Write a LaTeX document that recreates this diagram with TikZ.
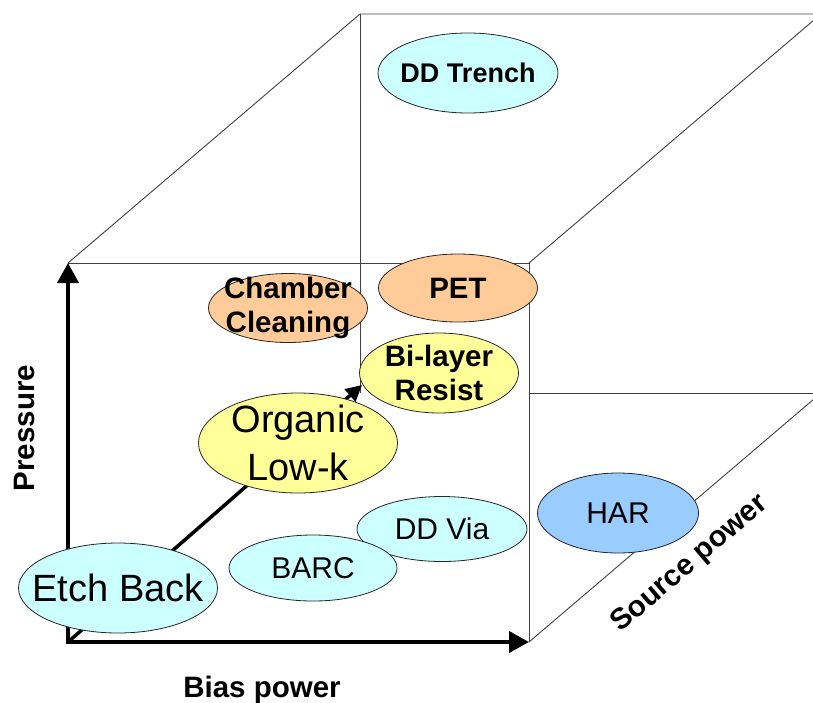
\documentclass[tikz,border=0pt]{standalone}
\usepackage{fontspec}
\setmainfont{Liberation Sans}
\usetikzlibrary{shapes.geometric,arrows.meta}
\definecolor{cyanfill}{HTML}{CCFFFF}
\definecolor{peach}{HTML}{FFCC99}
\definecolor{lyellow}{HTML}{FFFF99}
\definecolor{harblue}{HTML}{99CCFF}
\begin{document}
\begin{tikzpicture}[x=1pt,y=-1pt,
  edge/.style={draw=black!75, line width=0.9pt},
  axis/.style={line width=4pt, line cap=rect, -{Triangle[length=20pt,width=21pt]}},
  depth/.style={line width=3.5pt, -{Triangle[length=16pt,width=16pt]}},
  blob/.style={ellipse, draw=black!85, line width=0.8pt, inner sep=0pt},
  boldlab/.style={font=\fontsize{29.5}{34}\selectfont\bfseries, align=center, inner sep=0pt},
  biglab/.style={font=\fontsize{38}{48}\selectfont, align=center, inner sep=0pt},
  midlab/.style={font=\fontsize{30}{36}\selectfont, align=center, inner sep=0pt},
]
\useasboundingbox (0,0) rectangle (813,702);
\clip (0,0) rectangle (813,702);
% corners of the box
\coordinate (o) at (68,642);
\coordinate (ftl) at (68,263);
\coordinate (ftr) at (529,263);
\coordinate (fbr) at (529,642);
\coordinate (btl) at (360,14);
\coordinate (btr) at (821,14);
\coordinate (bbl) at (360,393);
\coordinate (bbr) at (821,393);
\coordinate (bbv) at (529,393);
\coordinate (tip) at (362,385);
% thin box edges
\draw[edge] (ftl) -- (ftr) -- (fbr);
\draw[edge] (ftl) -- (btl) -- (btr);
\draw[edge] (ftr) -- (btr);
\draw[edge] (fbr) -- (bbr);
\draw[edge] (btl) -- (bbl);
\draw[edge] (bbv) -- (bbr);
% depth axis
\draw[depth] (o) -- (tip);
% axes
\draw[axis] (o) -- (ftl);
\draw[axis] (o) -- (fbr);
% ellipses
\node[blob, fill=cyanfill, minimum width=180pt, minimum height=80pt] (ddt) at (468,73) {};
\node[boldlab, font=\fontsize{27}{30}\selectfont\bfseries] (ddtt) at (ddt) {DD Trench};
\node[blob, fill=peach, minimum width=159pt, minimum height=68pt] (pet) at (458,288) {};
\node[boldlab] (pett) at (pet) {PET};
\node[blob, fill=peach, minimum width=159pt, minimum height=69pt] (cc) at (288,308) {};
\node[boldlab] (cct) at (cc) {Chamber\\Cleaning};
\node[blob, fill=lyellow, minimum width=159pt, minimum height=80pt] (blr) at (439,373) {};
\node[boldlab] (blrt) at (blr) {Bi-layer\\Resist};
\node[blob, fill=lyellow, minimum width=199pt, minimum height=100pt] (olk) at (298,443) {};
\node[biglab] (olkt) at (olk) {Organic\\Low-k};
\node[blob, fill=cyanfill, minimum width=170pt, minimum height=65pt] (ddv) at (442,529) {};
\node[midlab] (ddvt) at (ddv) {DD Via};
\node[blob, fill=cyanfill, minimum width=168pt, minimum height=66pt] (barc) at (313,568) {};
\node[midlab] (barct) at (barc) {BARC};
\node[blob, fill=cyanfill, minimum width=199pt, minimum height=90pt] (eb) at (118,588) {};
\node[biglab] (ebt) at (eb) {Etch Back};
\node[blob, fill=harblue, minimum width=161pt, minimum height=80pt] (har) at (618,513) {};
\node[midlab] (hart) at (har) {HAR};
% axis labels
\node[boldlab, rotate=90] (pres) at (24,428) {Pressure};
\node[boldlab, anchor=base] (bias) at (262,697) {Bias power};
\node[boldlab, rotate=40.5] (src) at (690,564) {Source power};
\end{tikzpicture}
\end{document}
